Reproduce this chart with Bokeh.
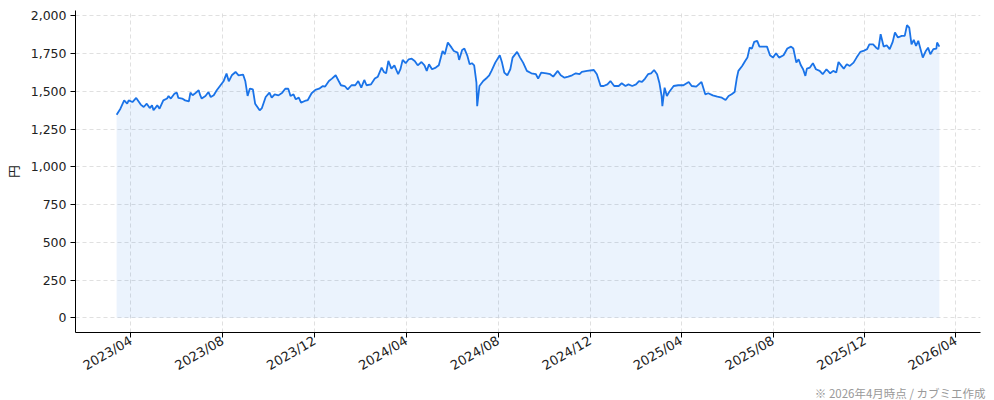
import math
import pandas as pd
from bokeh.plotting import figure
from bokeh.models import (Range1d, FixedTicker, DatetimeTickFormatter,
                          NumeralTickFormatter, Title, ColumnDataSource)
from bokeh.embed import file_html
from bokeh.resources import INLINE

dates = [
    "2023-03-13", "2023-03-18", "2023-03-23", "2023-03-27", "2023-03-29", "2023-04-03", "2023-04-08",
    "2023-04-14", "2023-04-18", "2023-04-22", "2023-04-26", "2023-04-29", "2023-05-01", "2023-05-06",
    "2023-05-09", "2023-05-14", "2023-05-19", "2023-05-21", "2023-05-24", "2023-05-29", "2023-06-01",
    "2023-06-03", "2023-06-08", "2023-06-12", "2023-06-17", "2023-06-19", "2023-06-22", "2023-06-25",
    "2023-06-30", "2023-07-02", "2023-07-04", "2023-07-09", "2023-07-13", "2023-07-16", "2023-07-20",
    "2023-07-24", "2023-07-29", "2023-08-02", "2023-08-06", "2023-08-09", "2023-08-13", "2023-08-18",
    "2023-08-22", "2023-08-28", "2023-08-31", "2023-09-03", "2023-09-06", "2023-09-10", "2023-09-13",
    "2023-09-19", "2023-09-22", "2023-09-27", "2023-10-02", "2023-10-05", "2023-10-09", "2023-10-14",
    "2023-10-19", "2023-10-23", "2023-10-27", "2023-10-30", "2023-11-03", "2023-11-06", "2023-11-10",
    "2023-11-13", "2023-11-18", "2023-11-22", "2023-11-27", "2023-12-02", "2023-12-07", "2023-12-12",
    "2023-12-15", "2023-12-20", "2023-12-24", "2023-12-29", "2024-01-02", "2024-01-05", "2024-01-10",
    "2024-01-14", "2024-01-19", "2024-01-24", "2024-01-28", "2024-02-01", "2024-02-05", "2024-02-08",
    "2024-02-14", "2024-02-19", "2024-02-23", "2024-02-28", "2024-03-02", "2024-03-05", "2024-03-08",
    "2024-03-12", "2024-03-16", "2024-03-21", "2024-03-24", "2024-03-27", "2024-03-31", "2024-04-04",
    "2024-04-08", "2024-04-12", "2024-04-16", "2024-04-21", "2024-04-25", "2024-04-28", "2024-05-01",
    "2024-05-05", "2024-05-10", "2024-05-14", "2024-05-19", "2024-05-22", "2024-05-26", "2024-05-31",
    "2024-06-03", "2024-06-08", "2024-06-10", "2024-06-14", "2024-06-17", "2024-06-21", "2024-06-24",
    "2024-06-27", "2024-06-30", "2024-07-03", "2024-07-04", "2024-07-07", "2024-07-12", "2024-07-17",
    "2024-07-20", "2024-07-23", "2024-07-28", "2024-08-03", "2024-08-06", "2024-08-09", "2024-08-13",
    "2024-08-17", "2024-08-20", "2024-08-26", "2024-08-30", "2024-09-03", "2024-09-08", "2024-09-14",
    "2024-09-20", "2024-09-23", "2024-09-27", "2024-10-04", "2024-10-09", "2024-10-13", "2024-10-19",
    "2024-10-23", "2024-10-28", "2024-11-02", "2024-11-07", "2024-11-12", "2024-11-17", "2024-11-20",
    "2024-11-27", "2024-12-06", "2024-12-10", "2024-12-15", "2024-12-19", "2024-12-24", "2024-12-28",
    "2025-01-02", "2025-01-08", "2025-01-12", "2025-01-17", "2025-01-21", "2025-01-26", "2025-01-31",
    "2025-02-04", "2025-02-08", "2025-02-12", "2025-02-16", "2025-02-20", "2025-02-24", "2025-02-28",
    "2025-03-03", "2025-03-06", "2025-03-07", "2025-03-10", "2025-03-13", "2025-03-16", "2025-03-22",
    "2025-03-28", "2025-04-04", "2025-04-11", "2025-04-15", "2025-04-21", "2025-04-28", "2025-05-03",
    "2025-05-07", "2025-05-13", "2025-05-19", "2025-05-25", "2025-05-30", "2025-06-03", "2025-06-07",
    "2025-06-11", "2025-06-14", "2025-06-16", "2025-06-21", "2025-06-25", "2025-06-28", "2025-07-01",
    "2025-07-04", "2025-07-07", "2025-07-11", "2025-07-14", "2025-07-19", "2025-07-24", "2025-07-28",
    "2025-08-01", "2025-08-05", "2025-08-09", "2025-08-15", "2025-08-20", "2025-08-25", "2025-08-28",
    "2025-09-01", "2025-09-04", "2025-09-07", "2025-09-10", "2025-09-13", "2025-09-15", "2025-09-19",
    "2025-09-23", "2025-09-27", "2025-10-02", "2025-10-06", "2025-10-11", "2025-10-16", "2025-10-20",
    "2025-10-24", "2025-10-27", "2025-10-31", "2025-11-03", "2025-11-07", "2025-11-11", "2025-11-16",
    "2025-11-20", "2025-11-25", "2025-11-29", "2025-12-04", "2025-12-07", "2025-12-12", "2025-12-16",
    "2025-12-19", "2025-12-22", "2025-12-26", "2025-12-30", "2026-01-03", "2026-01-07", "2026-01-10",
    "2026-01-14", "2026-01-19", "2026-01-23", "2026-01-26", "2026-01-29", "2026-02-01", "2026-02-04",
    "2026-02-07", "2026-02-10", "2026-02-13", "2026-02-16", "2026-02-20", "2026-02-23", "2026-02-26",
    "2026-03-02", "2026-03-06", "2026-03-07", "2026-03-10",
]

prices = [
    1345, 1385, 1440, 1418, 1440, 1429, 1456,
    1412, 1396, 1418, 1389, 1407, 1374, 1407,
    1385, 1440, 1452, 1469, 1452, 1485, 1491,
    1456, 1452, 1440, 1434, 1491, 1474, 1485,
    1507, 1474, 1452, 1469, 1495, 1462, 1474,
    1507, 1540, 1566, 1617, 1566, 1606, 1628,
    1606, 1611, 1566, 1469, 1518, 1513, 1418,
    1374, 1389, 1462, 1491, 1458, 1480, 1473,
    1491, 1517, 1517, 1469, 1480, 1447, 1458,
    1425, 1436, 1442, 1487, 1509, 1517, 1535,
    1531, 1568, 1584, 1606, 1568, 1540, 1535,
    1513, 1540, 1540, 1568, 1524, 1575, 1540,
    1546, 1584, 1597, 1657, 1628, 1619, 1701,
    1650, 1672, 1613, 1646, 1708, 1686, 1712,
    1716, 1701, 1672, 1694, 1672, 1635, 1679,
    1646, 1657, 1672, 1767, 1745, 1823, 1789,
    1767, 1756, 1708, 1774, 1783, 1734, 1679,
    1686, 1672, 1557, 1402, 1535, 1568, 1590,
    1606, 1635, 1690, 1739, 1690, 1624, 1606,
    1646, 1723, 1761, 1723, 1690, 1635, 1619,
    1613, 1584, 1624, 1619, 1613, 1597, 1635,
    1606, 1590, 1597, 1606, 1619, 1613, 1628,
    1635, 1641, 1613, 1535, 1535, 1546, 1568,
    1535, 1535, 1553, 1535, 1546, 1535, 1546,
    1568, 1562, 1584, 1613, 1619, 1641, 1613,
    1557, 1469, 1402, 1524, 1469, 1495, 1535,
    1540, 1540, 1562, 1535, 1531, 1562, 1480,
    1487, 1473, 1464, 1458, 1442, 1469, 1480,
    1495, 1590, 1635, 1668, 1701, 1723, 1789,
    1783, 1827, 1834, 1796, 1796, 1796, 1739,
    1723, 1752, 1723, 1739, 1783, 1796, 1783,
    1690, 1712, 1672, 1646, 1602, 1650, 1657,
    1686, 1646, 1635, 1613, 1646, 1619, 1635,
    1624, 1694, 1668, 1650, 1679, 1668, 1690,
    1723, 1761, 1767, 1779, 1811, 1811, 1789,
    1779, 1878, 1796, 1805, 1779, 1827, 1889,
    1856, 1867, 1867, 1938, 1922, 1811, 1840,
    1800, 1834, 1779, 1723, 1767, 1789, 1745,
    1779, 1783, 1823, 1796,
]

x_tick_dates = ["2023-04-01", "2023-08-01", "2023-12-01", "2024-04-01", "2024-08-01",
                "2024-12-01", "2025-04-01", "2025-08-01", "2025-12-01", "2026-04-01"]
y_ticks = [0, 250, 500, 750, 1000, 1250, 1500, 1750, 2000]
y_label = "円"
note_text = "※ 2026年4月時点 / カブミエ作成"

TICK_FONT = "DejaVu Sans"
CJK_FONT = "Noto Sans CJK JP"
LINE_COLOR = "#1a73e8"

d = pd.to_datetime(dates)
src = ColumnDataSource(dict(date=d, price=prices, base=[0] * len(prices)))

span = d[-1] - d[0]
xpad = span * 0.05
ypad = max(prices) * 0.05

p = figure(width=986, height=400, x_axis_type="datetime",
           output_backend="svg", toolbar_location=None,
           x_range=Range1d((d[0] - xpad).to_pydatetime(), (d[-1] + xpad).to_pydatetime()),
           y_range=Range1d(-ypad, max(prices) + ypad),
           min_border_left=75, min_border_right=6, min_border_top=10, min_border_bottom=0)
p.outline_line_color = None
p.background_fill_color = "white"

p.varea(x="date", y1="base", y2="price", source=src, fill_color=LINE_COLOR, fill_alpha=0.085)
p.line(x="date", y="price", source=src, line_color=LINE_COLOR, line_width=1.8)

tick_ms = [t.timestamp() * 1000 for t in pd.to_datetime(x_tick_dates)]
p.xaxis.ticker = FixedTicker(ticks=tick_ms)
fmt = "%Y/%m"
p.xaxis.formatter = DatetimeTickFormatter(
    microseconds=fmt, milliseconds=fmt, seconds=fmt, minsec=fmt, minutes=fmt,
    hourmin=fmt, hours=fmt, days=fmt, months=fmt, years=fmt)
p.xaxis.major_label_orientation = math.pi / 6

p.yaxis.ticker = FixedTicker(ticks=y_ticks)
p.yaxis.formatter = NumeralTickFormatter(format="0,0")
p.yaxis.axis_label = y_label

for ax in (p.xaxis, p.yaxis):
    ax.axis_line_color = "black"
    ax.axis_line_width = 1
    ax.major_tick_line_color = "black"
    ax.major_tick_out = 5
    ax.major_tick_in = 0
    ax.minor_tick_line_color = None
    ax.major_label_text_font = TICK_FONT
    ax.major_label_text_color = "#222222"
    ax.axis_label_text_font = CJK_FONT
    ax.axis_label_text_font_size = "12.5px"
    ax.axis_label_text_font_style = "normal"
    ax.axis_label_text_color = "#222222"
p.xaxis.major_label_text_font_size = "13px"
p.yaxis.major_label_text_font_size = "12.5px"
p.xaxis.major_label_standoff = 2
p.yaxis.major_label_standoff = 4

for g in (p.xgrid, p.ygrid):
    g.grid_line_color = "#d8d8d8"
    g.grid_line_dash = "4 3"
    g.grid_line_width = 1
    g.grid_line_alpha = 0.8

note = Title(text=note_text, align="right", text_font=CJK_FONT, text_font_size="11.5px",
             text_font_style="normal", text_color="#999999", standoff=0, offset=-5)
p.add_layout(note, "below")

open("out.html", "w").write(file_html(p, INLINE))
